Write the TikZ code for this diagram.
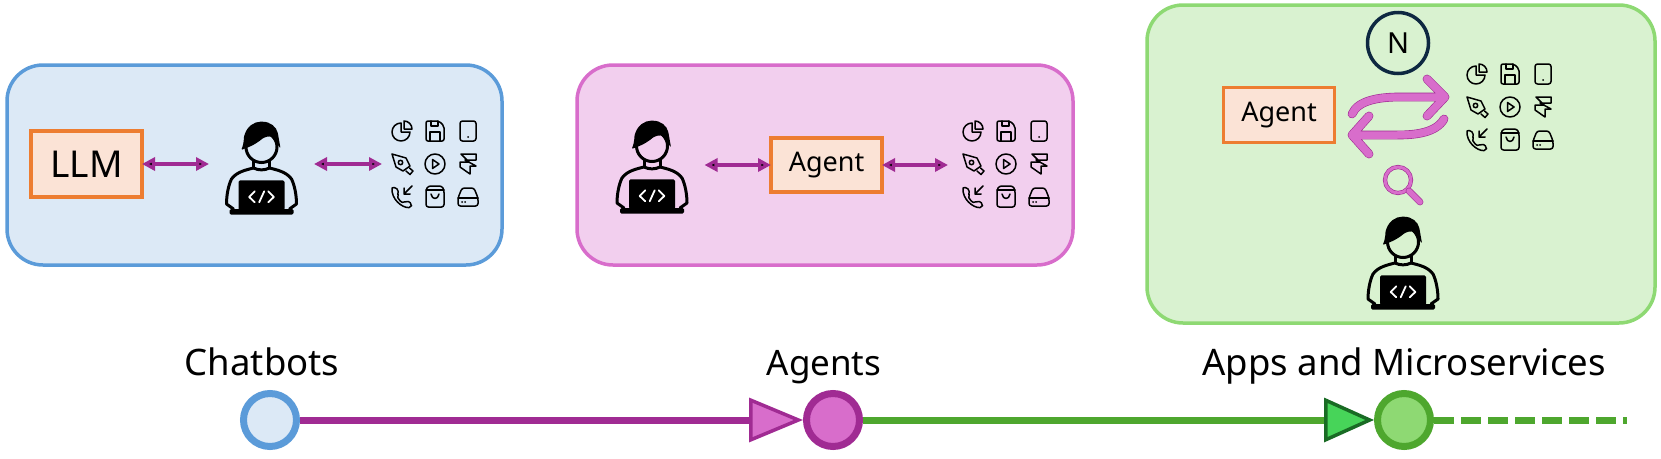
\documentclass[tikz,border=0pt]{standalone}
\usepackage{fontspec}
\setmainfont{Noto Sans}
\usetikzlibrary{arrows.meta}

\definecolor{bluefill}{HTML}{DCE9F6}
\definecolor{blueline}{HTML}{5B9BD9}
\definecolor{pinkfill}{HTML}{F2CFEE}
\definecolor{pinkline}{HTML}{D86DCB}
\definecolor{greenfill}{HTML}{D9F2D0}
\definecolor{greenline}{HTML}{8ED973}
\definecolor{orangefill}{HTML}{FBE3D6}
\definecolor{orangeline}{HTML}{ED7D31}
\definecolor{magentaline}{HTML}{A02B93}
\definecolor{darkgreen}{HTML}{4EA72E}
\definecolor{pinegreen}{HTML}{196B24}
\definecolor{brightgreen}{HTML}{47D459}
\definecolor{navyline}{HTML}{0E2841}

\tikzset{
  panel/.style={draw, line width=3.5pt, rounded corners=36pt},
  textbox/.style={draw=orangeline, fill=orangefill, line width=3.5pt, inner sep=0pt, outer sep=0pt, text=black},
  slot/.style={inner sep=0pt, outer sep=0pt, minimum height=93pt},
  twoway/.style={{Triangle[length=13pt,width=13pt]}-{Triangle[length=13pt,width=13pt]}, draw=magentaline, line width=4pt},
  stop/.style={circle, draw, line width=7pt, minimum size=53pt, inner sep=0pt},
  phase/.style={anchor=base, font=\fontsize{36.5}{40}\selectfont},
  swoop/.style={draw=magentaline, line cap=round, line join=round, line width=#1+1.2pt,
    postaction={draw=pinkline, line width=#1}},
  ico/.style={draw=black, line width=1.5pt, line cap=round, line join=round},
  person/.pic={
    \begin{scope}[shift={(0,4)}]
    \fill[black, rounded corners=1pt] (-20.3,-18) .. controls (-17,-26) and (-18,-30) .. (-17,-33)
      .. controls (-14,-42) and (-7,-46.3) .. (0,-46.3) .. controls (9,-46.3) and (15,-41) .. (16.5,-34)
      -- (19,-19.7) -- (9.7,-31.3) .. controls (7,-32) and (4,-31) .. (1.3,-29.7)
      .. controls (-3,-26) and (-8,-23) .. (-12,-21.3) -- cycle;
    \draw[black, line width=3pt] (0,-21) ellipse[x radius=15.5pt, y radius=15.5pt];
    \draw[black, line width=3pt, line cap=round] (-8,-7) -- (-8,0) (8,-7) -- (8,0);
    \draw[black, line width=3pt, line cap=round, line join=round]
      (-8,0) .. controls (-3,2.5) and (3,2.5) .. (8,0)
      (-8,0) .. controls (-16,2) and (-25,4) .. (-30,11) .. controls (-33,17) and (-35,27) .. (-35,36)
      -- (-28,41)
      (8,0) .. controls (16,2) and (25,4) .. (30,11) .. controls (33,17) and (35,27) .. (35,36)
      -- (28,41);
    \fill[black, rounded corners=1.5pt] (-23,12.3) rectangle (23,42);
    \fill[black, rounded corners=1.5pt] (-32,41) rectangle (32,46.7);
    \draw[white, line width=1.8pt, line cap=round, line join=round]
      (-6.7,23.3) -- (-12.3,29) -- (-6.7,34.3)
      (6.7,23.3) -- (12.3,29) -- (6.7,34.3)
      (2.7,23.3) -- (-2.3,34.3);
    \end{scope}
  },
  icongrid/.pic={
    % top row
    \begin{scope}[shift={(-33,-33)}]
      \draw[ico] (-1,-8) arc[start angle=90, end angle=360, radius=9pt] -- (-1,1) -- cycle;
      \draw[ico] (2,-10) arc[start angle=90, end angle=0, radius=8pt] -- (2,-2) -- cycle;
    \end{scope}
    \begin{scope}[shift={(0,-33)}]
      \draw[ico, rounded corners=2pt] (-9,-10) -- (4,-10) -- (9,-5) -- (9,10) -- (-9,10) -- cycle;
      \draw[ico] (-5,10) -- (-5,1) -- (5,1) -- (5,10) (-4,-10) -- (-4,-5) -- (3,-5) -- (3,-10);
    \end{scope}
    \begin{scope}[shift={(33,-33)}]
      \draw[ico, rounded corners=2.5pt] (-8,-10) rectangle (8,10);
      \fill (0,6) circle[radius=1pt];
    \end{scope}
    % middle row
    \begin{scope}[shift={(-33,0)}]
      \draw[ico] (-10,-10) -- (4,-6) -- (8,2) -- (1,7) -- (-6,3) -- cycle;
      \draw[ico] (-1.5,-1.5) circle[radius=2.2pt];
      \draw[ico] (4,7) -- (8,10.5) -- (11,7) -- (7.5,4);
    \end{scope}
    \begin{scope}
      \draw[ico] (0,0) circle[radius=10pt];
      \draw[ico] (-2.5,-4.5) -- (4,0) -- (-2.5,4.5) -- cycle;
    \end{scope}
    \begin{scope}[shift={(33,0)}]
      \draw[ico] (-7,-10) -- (8,-10) -- (8,-4) -- (-3,-4) -- (8,2) -- (2,2) -- (2,10) -- (-8,3) -- (-8,-2) -- (1,-2) -- cycle;
    \end{scope}
    % bottom row
    \begin{scope}[shift={(-33,33)}]
      \draw[ico, rounded corners=2pt] (-10,-9) -- (-6,-10) -- (-3,-4) -- (-5,-1) .. controls (-3,3) and (-1,5) .. (2,6)
        -- (5,3.5) -- (10,7) -- (9,10.5) .. controls (0,11) and (-11,2) .. (-10,-9);
      \draw[ico] (10,-11) -- (2,-3) (2,-9) -- (2,-3) (8,-3) -- (2,-3);
    \end{scope}
    \begin{scope}[shift={(0,33)}]
      \draw[ico, rounded corners=2.5pt] (-9,-7) -- (-7,-11) -- (7,-11) -- (9,-7) -- (9,10) -- (-9,10) -- cycle;
      \draw[ico] (-9,-7) -- (9,-7);
      \draw[ico] (-4,-3) .. controls (-3,3) and (3,3) .. (4,-3);
    \end{scope}
    \begin{scope}[shift={(33,33)}]
      \draw[ico, rounded corners=2.5pt] (-10,1) -- (-6,-9) -- (6,-9) -- (10,1) -- (10,9) -- (-10,9) -- cycle;
      \draw[ico] (-10,1) -- (10,1);
      \fill (-6,5) circle[radius=1pt] (-3,5) circle[radius=1pt];
    \end{scope}
  },
}

\begin{document}
\begin{tikzpicture}[x=1pt, y=-1pt]
\useasboundingbox (0,0) rectangle (1661,458);

% panels
\begin{scope}[]
    \draw[panel, draw=blueline, fill=bluefill] (7,65) rectangle (502,265);
    \draw[panel, draw=pinkline, fill=pinkfill] (577,65) rectangle (1073,265);
    \draw[panel, draw=greenline, fill=greenfill] (1147,5) rectangle (1655,323);
\end{scope}

% boxes
\begin{scope}[]
    \node[textbox, minimum width=111pt, minimum height=66pt, font=\fontsize{37}{40}\selectfont] (llm) at (86.5,164) {LLM};
    \node[textbox, minimum width=111pt, minimum height=54pt, font=\fontsize{27}{30}\selectfont] (agent1) at (826.5,165) {Agent};
    \node[textbox, minimum width=111pt, minimum height=55pt, font=\fontsize{27}{30}\selectfont] (agent2) at (1279,115) {Agent};
    \node[circle, draw=navyline, line width=3.5pt, minimum size=61pt, inner sep=0pt, font=\fontsize{29}{30}\selectfont] (tool) at (1398,43) {N};
\end{scope}

% people and icons
\begin{scope}[]
    \node[slot, minimum width=105pt] (dev1) at (261.5,164) {};
    \node[slot, minimum width=105pt] (dev2) at (652,165) {};
    \node[slot, minimum width=105pt] (dev3) at (1403,259) {};
    \node[slot, minimum width=106pt] (apps1) at (435,164) {};
    \node[slot, minimum width=116pt] (apps2) at (1006,165) {};
    \node[slot, minimum width=106pt] (apps3) at (1510,107) {};
    \pic at (dev1) {person};
    \pic at ([yshift=2pt]dev2) {person};
    \pic at (dev3) {person};
    \pic at (apps1) {icongrid};
    \pic at ([yshift=1pt]apps2) {icongrid};
    \pic at (apps3) {icongrid};
\end{scope}

\begin{scope}[]
    \path [twoway] (llm) edge (dev1);
    \path [twoway] (dev1) edge (apps1);
    \path [twoway] (dev2) edge (agent1);
    \path [twoway] (agent1) edge (apps2);
\end{scope}

% agent loop
\begin{scope}[]
    \coordinate (loopA) at (1352,114);
    \coordinate (loopB) at (1445,97);
    \coordinate (loopC) at (1444,119);
    \coordinate (loopD) at (1352,135);
    \draw[swoop=7.5pt] (loopA) .. controls (1358,100) and (1380,97) .. (1400,97) -- (loopB)
      (1427,79) -- (loopB) -- (1427,116);
    \draw[swoop=7.5pt] (loopC) .. controls (1436,133) and (1415,135) .. (1397,135) -- (loopD)
      (1369,116) -- (loopD) -- (1369,154);
    \coordinate (lens) at (1398,180);
    \coordinate (lensend) at (1420,202);
    \draw[swoop=3pt] (lens) circle[radius=13pt];
    \draw[swoop=5.5pt] (1409,191) -- (lensend);
\end{scope}

% timeline
\begin{scope}[]
    \node[stop, draw=blueline, fill=bluefill] (chat) at (270,420) {};
    \node[stop, draw=magentaline, fill=pinkline] (agents) at (833,420) {};
    \node[stop, draw=darkgreen, fill=greenline] (apps) at (1404,420) {};
    \coordinate (future) at (1627,420);
    \node[phase] (chatlabel) at (262,375) {Chatbots};
    \node[phase, font=\fontsize{35}{40}\selectfont] (agentslabel) at (824,375) {Agents};
    \node[phase] (appslabel) at (1404,375) {Apps and Microservices};
    \path [draw=magentaline, line width=7pt, -{Triangle[length=54pt,width=44pt,line width=3.5pt,fill=pinkline]}] (chat) edge (agents);
    \path [draw=darkgreen, line width=7pt, -{Triangle[length=50pt,width=44pt,line width=3.5pt,color=pinegreen,fill=brightgreen]}] (agents) edge (apps);
    \draw [draw=darkgreen, line width=7pt, dash pattern=on 20pt off 7pt] (apps) -- (future);
\end{scope}
\end{tikzpicture}
\end{document}
